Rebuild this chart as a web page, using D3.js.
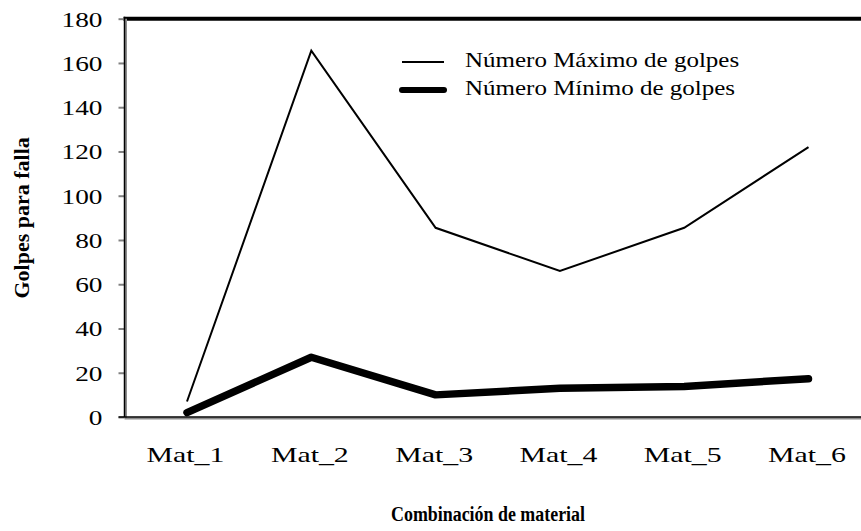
<!DOCTYPE html>
<html>
<head>
<meta charset="utf-8">
<script src="https://cdn.jsdelivr.net/npm/d3@7"></script>
<style>
  body { margin: 0; background: #fff; }
  text { font-family: "Liberation Serif", "Times New Roman", serif; fill: #000; }
</style>
</head>
<body>
<div id="vis1" style="width:861px;height:531px;"></div>
<script>
/*
Data
*/

const categories = ["Mat_1", "Mat_2", "Mat_3", "Mat_4", "Mat_5", "Mat_6"];
const maxGolpes = [7, 165.5, 85.5, 66, 85.5, 122];
const minGolpes = [2, 27, 10, 13, 13.8, 17.3];
const yTicks = [0, 20, 40, 60, 80, 100, 120, 140, 160, 180];
const seriesNames = ["Número Máximo de golpes", "Número Mínimo de golpes"];

/*
Size constants
*/

const WIDTH = 861;
const HEIGHT = 531;
const margin = {top: 18.7, left: 124.5, bottom: 114};
const plotBottom = HEIGHT - margin.bottom;

const svg = d3.select("#vis1")
                .append("svg")
                .attr("width", WIDTH)
                .attr("height", HEIGHT);

/*
Scales
*/

const x = d3.scalePoint()
            .domain(categories)
            .range([margin.left + 62.5, margin.left + 62.5 + 5 * 124.3]);

const y = d3.scaleLinear()
            .domain([0, 180])
            .range([plotBottom, margin.top]);

// stretch text horizontally a bit, like the picture
function stretch(sel, factor) {
    sel.each(function() {
        const w = this.getComputedTextLength();
        d3.select(this)
          .attr("textLength", w * factor)
          .attr("lengthAdjust", "spacingAndGlyphs");
    });
}

/*
Axes
*/

// top frame line
svg.append("line")
    .attr("x1", margin.left - 1).attr("x2", WIDTH)
    .attr("y1", y(180)).attr("y2", y(180))
    .attr("stroke", "#000").attr("stroke-width", 4);

const yAxis = svg.append("g")
    .attr("transform", `translate(${margin.left}, 0)`)
    .call(d3.axisLeft(y).tickValues(yTicks).tickSize(6).tickPadding(16));
yAxis.select(".domain").remove();
yAxis.selectAll(".tick line").attr("stroke", "#808080").attr("stroke-width", 2);
yAxis.selectAll(".tick text")
    .attr("font-size", 21)
    .attr("font-family", "Liberation Serif")
    .attr("dy", "0.35em")
    .call(stretch, 1.3);

// left axis with grey shadow
svg.append("line")
    .attr("x1", margin.left + 1.5).attr("x2", margin.left + 1.5)
    .attr("y1", margin.top).attr("y2", plotBottom + 1)
    .attr("stroke", "#8c8c8c").attr("stroke-width", 2);
svg.append("line")
    .attr("x1", margin.left).attr("x2", margin.left)
    .attr("y1", margin.top - 2).attr("y2", plotBottom)
    .attr("stroke", "#000").attr("stroke-width", 1.5);

// bottom axis with grey shadow
svg.append("line")
    .attr("x1", margin.left).attr("x2", WIDTH)
    .attr("y1", plotBottom + 1.5).attr("y2", plotBottom + 1.5)
    .attr("stroke", "#8c8c8c").attr("stroke-width", 2);
svg.append("line")
    .attr("x1", margin.left - 6).attr("x2", WIDTH)
    .attr("y1", plotBottom).attr("y2", plotBottom)
    .attr("stroke", "#000").attr("stroke-width", 1.5);

const xAxis = svg.append("g")
    .attr("transform", `translate(0, ${plotBottom})`)
    .call(d3.axisBottom(x).tickSize(0).tickPadding(30));
xAxis.select(".domain").remove();
xAxis.selectAll(".tick text")
    .attr("font-size", 21)
    .attr("font-family", "Liberation Serif")
    .attr("dx", "-2")
    .call(stretch, 1.42);

/*
Lines
*/

const lineGen = d3.line()
    .x((d, i) => x(categories[i]))
    .y(d => y(d));

svg.append("path")
    .datum(maxGolpes)
    .attr("d", lineGen)
    .attr("fill", "none")
    .attr("stroke", "#000")
    .attr("stroke-width", 2);

svg.append("path")
    .datum(minGolpes)
    .attr("d", lineGen)
    .attr("fill", "none")
    .attr("stroke", "#000")
    .attr("stroke-width", 7.5)
    .attr("stroke-linejoin", "round")
    .attr("stroke-linecap", "round");

/*
Legend
*/

const legend = svg.append("g").attr("id", "legend");
const legendRows = [
    {name: seriesNames[0], width: 2, cap: "butt"},
    {name: seriesNames[1], width: 6, cap: "round"}
];
legend.selectAll("line")
    .data(legendRows)
    .enter()
    .append("line")
    .attr("x1", 402).attr("x2", 444)
    .attr("y1", (d, i) => 62 + i * 28)
    .attr("y2", (d, i) => 62 + i * 28)
    .attr("stroke", "#000")
    .attr("stroke-width", d => d.width)
    .attr("stroke-linecap", d => d.cap);
legend.selectAll("text")
    .data(legendRows)
    .enter()
    .append("text")
    .attr("x", 465)
    .attr("y", (d, i) => 67 + i * 28)
    .attr("font-size", 21)
    .text(d => d.name)
    .call(stretch, 1.19);

/*
Axis titles
*/

svg.append("text")
    .attr("transform", `translate(29, ${(margin.top + plotBottom) / 2}) rotate(-90)`)
    .attr("text-anchor", "middle")
    .attr("font-size", 22)
    .attr("font-weight", "bold")
    .text("Golpes para falla");

svg.append("text")
    .attr("x", 488)
    .attr("y", 521)
    .attr("text-anchor", "middle")
    .attr("font-size", 20)
    .attr("font-weight", "bold")
    .attr("textLength", 194)
    .attr("lengthAdjust", "spacingAndGlyphs")
    .text("Combinación de material");
</script>
</body>
</html>
